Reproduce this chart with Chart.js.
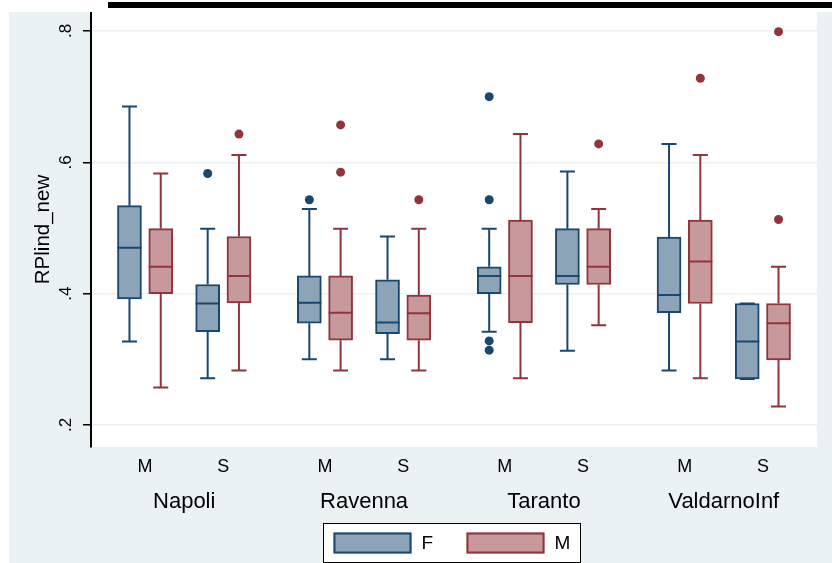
<!DOCTYPE html>
<html>
<head>
<meta charset="utf-8">
<title>RPlind_new</title>
<script src="https://cdn.jsdelivr.net/npm/chart.js@4/dist/chart.umd.min.js"></script>
<style>
    html, body { margin: 0; padding: 0; background: #fff; width: 832px; height: 563px; overflow: hidden; }
    #topbar { position: absolute; left: 108px; top: 2px; width: 724px; height: 6px; background: #000; }
    #wrap { position: absolute; left: 9px; top: 12px; width: 823px; height: 551px; }
</style>
</head>
<body>
<div id="topbar"></div>
<div id="wrap"><canvas id="boxChart" width="823" height="551"></canvas></div>
<script>
/* ==================================================
   RPlind_new のボックスプロット (Stata風)
   ================================================== */

// カテゴリ
const subLabels = ['M', 'S', 'M', 'S', 'M', 'S', 'M', 'S'];
const groupPos = [0, 1, 2.3, 3.3, 4.6, 5.6, 6.9, 7.9];
const cities = ['Napoli', 'Ravenna', 'Taranto', 'ValdarnoInf'];
const cityPos = [0.5, 2.8, 5.1, 7.4];
const seriesNames = ['F', 'M'];

// 軸
const yTicks = [0.2, 0.4, 0.6, 0.8];
const yTickLabels = ['.2', '.4', '.6', '.8'];

// F (青)
const fLow  = [0.327, 0.271, 0.300, 0.300, 0.342, 0.313, 0.283, 0.270];
const fQ1   = [0.392, 0.342, 0.355, 0.339, 0.400, 0.414, 0.371, 0.270];
const fMed  = [0.470, 0.385, 0.386, 0.356, 0.427, 0.427, 0.398, 0.327];
const fQ3   = [0.534, 0.414, 0.427, 0.421, 0.441, 0.499, 0.486, 0.385];
const fHigh = [0.685, 0.499, 0.529, 0.487, 0.499, 0.586, 0.628, 0.385];
const fOut  = [[], [0.583], [0.543], [], [0.700, 0.543, 0.328, 0.314], [], [], []];

// M (赤)
const mLow  = [0.257, 0.283, 0.283, 0.283, 0.271, 0.352, 0.271, 0.228];
const mQ1   = [0.400, 0.386, 0.329, 0.329, 0.356, 0.414, 0.385, 0.299];
const mMed  = [0.441, 0.427, 0.371, 0.370, 0.427, 0.441, 0.449, 0.355];
const mQ3   = [0.499, 0.487, 0.427, 0.398, 0.512, 0.499, 0.512, 0.385];
const mHigh = [0.583, 0.611, 0.499, 0.499, 0.643, 0.529, 0.611, 0.441];
const mOut  = [[], [0.643], [0.657, 0.585], [0.543], [], [0.628], [0.728], [0.799, 0.513]];

// スタイル
const FONT = "'Liberation Sans', Arial, sans-serif";
const OUTER_BG = '#eaf2f3';
const F_FILL = '#8da3b8';
const F_LINE = '#1a476f';
const M_FILL = '#c8999c';
const M_LINE = '#90353b';
const OFFSET = 0.2;   // 同じカテゴリ内の F / M のずれ
const BOX_W = 24;
const CAP = 7.5;

Chart.defaults.font.family = FONT;
Chart.defaults.color = '#000';

const boxSeries = [
    { off: -OFFSET, low: fLow, q1: fQ1, med: fMed, q3: fQ3, high: fHigh, line: F_LINE },
    { off: OFFSET, low: mLow, q1: mQ1, med: mMed, q3: mQ3, high: mHigh, line: M_LINE }
];

// 背景 (外側は水色、プロット領域は白)
const bgPlugin = {
    id: 'stataBg',
    beforeDraw(chart) {
        const { ctx, chartArea: a } = chart;
        ctx.save();
        ctx.fillStyle = OUTER_BG;
        ctx.fillRect(0, 0, chart.width, chart.height);
        ctx.fillStyle = '#fff';
        ctx.fillRect(a.left, a.top, a.right - a.left, a.bottom - a.top);
        ctx.restore();
    }
};

// ひげと中央値
const whiskerPlugin = {
    id: 'whiskers',
    afterDatasetsDraw(chart) {
        const { ctx, scales: { x, y } } = chart;
        ctx.save();
        ctx.lineWidth = 2;
        boxSeries.forEach(s => {
            ctx.strokeStyle = s.line;
            groupPos.forEach((p, i) => {
                const cx = x.getPixelForValue(p + s.off);
                const yLow = y.getPixelForValue(s.low[i]);
                const yHigh = y.getPixelForValue(s.high[i]);
                const yQ1 = y.getPixelForValue(s.q1[i]);
                const yQ3 = y.getPixelForValue(s.q3[i]);
                const yMed = y.getPixelForValue(s.med[i]);
                ctx.beginPath();
                ctx.moveTo(cx, yQ3); ctx.lineTo(cx, yHigh);
                ctx.moveTo(cx, yQ1); ctx.lineTo(cx, yLow);
                ctx.moveTo(cx - CAP, yHigh); ctx.lineTo(cx + CAP, yHigh);
                ctx.moveTo(cx - CAP, yLow); ctx.lineTo(cx + CAP, yLow);
                ctx.moveTo(cx - BOX_W / 2, yMed); ctx.lineTo(cx + BOX_W / 2, yMed);
                ctx.stroke();
            });
        });
        ctx.restore();
    }
};

// 枠付きの凡例
const legendPlugin = {
    id: 'boxLegend',
    afterDraw(chart) {
        const { ctx, chartArea: a } = chart;
        const w = 257, h = 39;
        const left = Math.round((a.left + a.right) / 2 - w / 2) - 2.5;
        const top = 511.5;
        ctx.save();
        ctx.fillStyle = '#fff';
        ctx.fillRect(left, top, w, h);
        ctx.strokeStyle = '#000';
        ctx.lineWidth = 1;
        ctx.strokeRect(left, top, w, h);
        const items = [
            { fill: F_FILL, line: F_LINE, x: left + 10 },
            { fill: M_FILL, line: M_LINE, x: left + 143 }
        ];
        ctx.font = '19px ' + FONT;
        ctx.textBaseline = 'middle';
        items.forEach((it, i) => {
            ctx.fillStyle = it.fill;
            ctx.fillRect(it.x, top + 9, 78, 21);
            ctx.strokeStyle = it.line;
            ctx.lineWidth = 2;
            ctx.strokeRect(it.x + 1, top + 10, 76, 19);
            ctx.fillStyle = '#000';
            ctx.fillText(seriesNames[i], it.x + 88, top + 20);
        });
        ctx.restore();
    }
};

function boxData(q1, q3, off) {
    return groupPos.map((p, i) => ({ x: p + off, y: [q1[i], q3[i]] }));
}

function outlierData(out, off) {
    return groupPos.flatMap((p, i) => out[i].map(v => ({ x: p + off, y: v })));
}

const barStyle = { borderWidth: 2, borderSkipped: false, barThickness: BOX_W, grouped: false };
const dotStyle = { pointRadius: 4.5, pointBorderWidth: 0, showLine: false };

new Chart(document.getElementById('boxChart'), {
    type: 'bar',
    data: {
        datasets: [
            { type: 'bar', label: 'F', data: boxData(fQ1, fQ3, -OFFSET), backgroundColor: F_FILL, borderColor: F_LINE, ...barStyle },
            { type: 'bar', label: 'M', data: boxData(mQ1, mQ3, OFFSET), backgroundColor: M_FILL, borderColor: M_LINE, ...barStyle },
            { type: 'scatter', label: 'F out', data: outlierData(fOut, -OFFSET), pointBackgroundColor: F_LINE, ...dotStyle },
            { type: 'scatter', label: 'M out', data: outlierData(mOut, OFFSET), pointBackgroundColor: M_LINE, ...dotStyle }
        ]
    },
    options: {
        responsive: false,
        animation: false,
        layout: { autoPadding: false, padding: { left: 0, right: 15, top: 0, bottom: 38 } },
        plugins: {
            legend: { display: false },
            tooltip: { enabled: false }
        },
        scales: {
            x: {
                type: 'linear',
                position: 'bottom',
                weight: 0,
                min: -0.692,
                max: 8.592,
                bounds: 'data',
                offset: false,
                grid: { display: false, drawTicks: false },
                border: { display: false },
                afterBuildTicks: scale => { scale.ticks = groupPos.map(v => ({ value: v })); },
                afterFit: scale => { scale.height = 38; scale.paddingLeft = 0; scale.paddingRight = 0; },
                ticks: {
                    autoSkip: false,
                    maxRotation: 0,
                    minRotation: 0,
                    padding: 9,
                    color: '#000',
                    font: { size: 18 },
                    callback: (v, i) => subLabels[i]
                }
            },
            x2: {
                type: 'linear',
                position: 'bottom',
                weight: 1,
                min: -0.692,
                max: 8.592,
                bounds: 'data',
                offset: false,
                grid: { display: false, drawTicks: false },
                border: { display: false },
                afterBuildTicks: scale => { scale.ticks = cityPos.map(v => ({ value: v })); },
                afterFit: scale => { scale.height = 40; scale.paddingLeft = 0; scale.paddingRight = 0; },
                ticks: {
                    autoSkip: false,
                    maxRotation: 0,
                    minRotation: 0,
                    padding: 4,
                    color: '#000',
                    font: { size: 22 },
                    callback: (v, i) => cities[i]
                }
            },
            y: {
                type: 'linear',
                min: 0.1665,
                max: 0.8289,
                bounds: 'data',
                afterBuildTicks: scale => { scale.ticks = yTicks.map(v => ({ value: v })); },
                afterFit: scale => { scale.width = 82; scale.paddingTop = 0; scale.paddingBottom = 0; },
                border: { display: true, color: '#000', width: 2 },
                grid: {
                    color: OUTER_BG,
                    lineWidth: 1.5,
                    tickLength: 8,
                    tickColor: '#000',
                    tickWidth: 1.5
                },
                ticks: {
                    minRotation: 90,
                    maxRotation: 90,
                    crossAlign: 'center',
                    padding: 10,
                    color: '#000',
                    font: { size: 17 },
                    callback: (v, i) => yTickLabels[i]
                },
                title: {
                    display: true,
                    text: 'RPlind_new',
                    color: '#000',
                    font: { size: 20.5 },
                    padding: { top: 22.2, bottom: 0 }
                }
            }
        }
    },
    plugins: [bgPlugin, whiskerPlugin, legendPlugin]
});
</script>
</body>
</html>
